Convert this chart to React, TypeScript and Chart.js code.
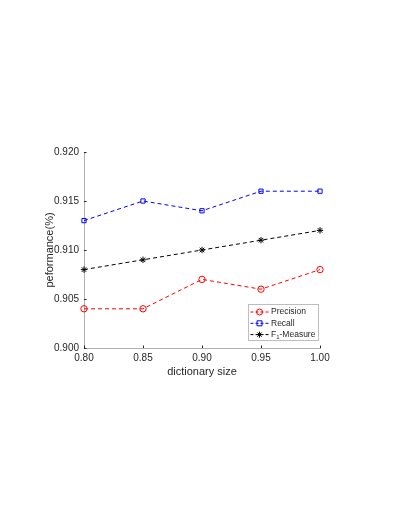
import React, { useEffect, useRef } from "react";
import { Chart, registerables } from "chart.js";

Chart.register(...registerables);

const dictionarySizes = [0.8, 0.85, 0.9, 0.95, 1.0];
const precision = [0.904, 0.904, 0.907, 0.906, 0.908];
const recall = [0.913, 0.915, 0.914, 0.916, 0.916];
const f1 = [0.908, 0.909, 0.91, 0.911, 0.912];
const seriesLabels = ["Precision", "Recall", "F1-Measure"];

const FONT = "'Liberation Sans', Arial, sans-serif";

const inwardTicks = {
  id: "inwardTicks",
  afterDraw(chart: any) {
    const { ctx } = chart;
    const x = chart.scales.x;
    const y = chart.scales.y;
    ctx.save();
    ctx.strokeStyle = "#262626";
    ctx.lineWidth = 1;
    ctx.beginPath();
    x.ticks.forEach((t: any) => {
      const px = Math.round(x.getPixelForValue(t.value)) + 0.5;
      ctx.moveTo(px, y.bottom);
      ctx.lineTo(px, y.bottom - 2.5);
    });
    y.ticks.forEach((t: any) => {
      const py = Math.round(y.getPixelForValue(t.value)) + 0.5;
      ctx.moveTo(x.left, py);
      ctx.lineTo(x.left + 2.5, py);
    });
    ctx.stroke();
    ctx.restore();
  },
};

const customLegend = {
  id: "customLegend",
  afterDraw(chart: any) {
    const { ctx } = chart;
    const bx = 248.5, by = 304.5, bw = 70, bh = 36;
    ctx.save();
    ctx.fillStyle = "#ffffff";
    ctx.fillRect(bx, by, bw, bh);
    ctx.strokeStyle = "#bdbdbd";
    ctx.lineWidth = 1;
    ctx.strokeRect(bx, by, bw, bh);
    chart.data.datasets.forEach((ds: any, i: number) => {
      const cy = by + 7.5 + i * 11.3;
      ctx.strokeStyle = ds.borderColor;
      ctx.lineWidth = 1;
      ctx.setLineDash([3, 2]);
      ctx.beginPath();
      ctx.moveTo(bx + 2, cy);
      ctx.lineTo(bx + 20, cy);
      ctx.stroke();
      ctx.setLineDash([]);
      const style = ds.pointStyle;
      ctx.strokeStyle = ds.borderColor;
      ctx.beginPath();
      const mx = bx + 11, r = 3;
      if (style === "circle") {
        ctx.arc(mx, cy, r, 0, Math.PI * 2);
      } else if (style === "rect") {
        ctx.rect(mx - 2.5, cy - 2.5, 5, 5);
      } else {
        for (let k = 0; k < 4; k++) {
          const a = (k * Math.PI) / 4;
          ctx.moveTo(mx - r * Math.cos(a), cy - r * Math.sin(a));
          ctx.lineTo(mx + r * Math.cos(a), cy + r * Math.sin(a));
        }
      }
      ctx.stroke();
      ctx.fillStyle = "#262626";
      ctx.font = `8.5px ${FONT}`;
      ctx.textBaseline = "middle";
      ctx.textAlign = "left";
      const label: string = ds.label;
      const tx = bx + 22.5;
      if (label.startsWith("F1")) {
        ctx.fillText("F", tx, cy);
        const w1 = ctx.measureText("F").width;
        ctx.font = `6px ${FONT}`;
        ctx.fillText("1", tx + w1, cy + 3);
        const w2 = ctx.measureText("1").width;
        ctx.font = `8.5px ${FONT}`;
        ctx.fillText(label.slice(2), tx + w1 + w2, cy);
      } else {
        ctx.fillText(label, tx, cy);
      }
    });
    ctx.restore();
  },
};

export default function App() {
  const ref = useRef<HTMLCanvasElement>(null);
  useEffect(() => {
    document.body.style.margin = "0";
    const mk = (vals: number[]) => dictionarySizes.map((x, i) => ({ x, y: vals[i] }));
    const chart = new Chart(ref.current!, {
      type: "line",
      data: {
        datasets: [
          {
            label: seriesLabels[0],
            data: mk(precision),
            borderColor: "#ff0000",
            borderWidth: 1,
            borderDash: [4, 3],
            pointStyle: "circle",
            pointRadius: 3.2,
            pointBorderColor: "#ff0000",
            pointBackgroundColor: "rgba(0,0,0,0)",
            pointBorderWidth: 1,
            clip: false,
          },
          {
            label: seriesLabels[1],
            data: mk(recall),
            borderColor: "#0000ff",
            borderWidth: 1,
            borderDash: [4, 3],
            pointStyle: "rect",
            pointRadius: 3,
            pointBorderColor: "#0000ff",
            pointBackgroundColor: "rgba(0,0,0,0)",
            pointBorderWidth: 1,
            clip: false,
          },
          {
            label: seriesLabels[2],
            data: mk(f1),
            borderColor: "#000000",
            borderWidth: 1,
            borderDash: [4, 3],
            pointStyle: "star",
            pointRadius: 3.2,
            pointBorderColor: "#000000",
            pointBackgroundColor: "#000000",
            pointBorderWidth: 1,
            clip: false,
          },
        ],
      },
      options: {
        animation: false,
        responsive: false,
        layout: { padding: { left: 0, top: 152, right: 73, bottom: 121 } },
        plugins: { legend: { display: false }, tooltip: { enabled: false } },
        scales: {
          x: {
            type: "linear",
            min: 0.8,
            max: 1.0,
            afterFit: (s: any) => { s.height = 40; },
            grid: { display: false, drawTicks: false },
            border: { display: true, color: "#b0b0b0", width: 1 },
            ticks: {
              stepSize: 0.05,
              padding: 4,
              color: "#262626",
              font: { family: FONT, size: 10 },
              callback: (v: any) => Number(v).toFixed(2),
            },
            title: {
              display: true,
              text: "dictionary size",
              color: "#262626",
              font: { family: FONT, size: 11 },
              padding: { top: 0, bottom: 9.5 },
            },
          },
          y: {
            min: 0.9,
            max: 0.92,
            afterFit: (s: any) => { s.width = 84; },
            grid: { display: false, drawTicks: false },
            border: { display: true, color: "#b0b0b0", width: 1 },
            ticks: {
              stepSize: 0.005,
              padding: 5,
              color: "#262626",
              font: { family: FONT, size: 10 },
              callback: (v: any) => Number(v).toFixed(3),
            },
            title: {
              display: true,
              text: "peformance(%)",
              color: "#262626",
              font: { family: FONT, size: 11 },
              padding: { top: 43, bottom: 0 },
            },
          },
        },
      },
      plugins: [inwardTicks, customLegend],
    });
    return () => chart.destroy();
  }, []);
  return <canvas ref={ref} width={393} height={509} style={{ display: "block" }} />;
}
